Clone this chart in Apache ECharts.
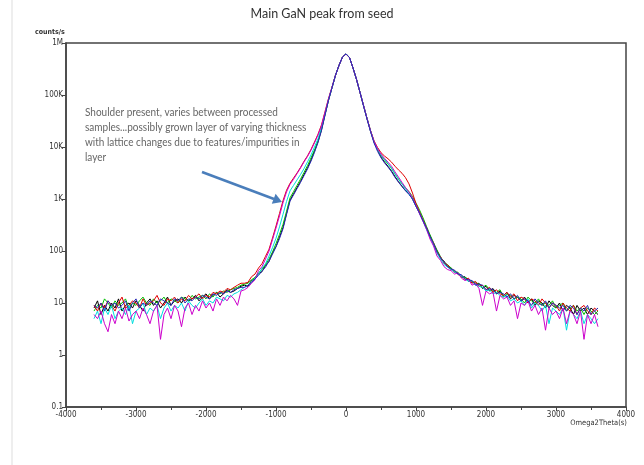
<!DOCTYPE html>
<html>
<head>
<meta charset="utf-8">
<script src="https://cdn.jsdelivr.net/npm/echarts@6/dist/echarts.min.js"></script>
<style>
html,body{margin:0;padding:0;background:#fff;}
#chart{width:644px;height:465px;}
</style>
</head>
<body>
<div id="chart"></div>
<script>
// Omega-2Theta (s) sample positions
const xValues = [-3600,-3550,-3500,-3450,-3400,-3350,-3300,-3250,-3200,-3150,-3100,-3050,-3000,-2950,-2900,-2850,-2800,-2750,-2700,-2650,-2600,-2550,-2500,-2450,-2400,-2350,-2300,-2250,-2200,-2150,-2100,-2050,-2000,-1950,-1900,-1850,-1800,-1750,-1700,-1650,-1600,-1550,-1500,
-1450,-1400,-1350,-1300,-1250,-1200,-1150,-1100,-1050,-1000,-950,-900,-850,-800,-750,-700,-650,-600,-550,-500,-450,-400,-350,-300,-250,-200,-150,-100,-50,0,50,100,150,200,250,300,350,400,450,500,550,600,650,700,750,800,850,900,950,1000,1050,1100,1150,1200,1250,1300,1350,1400,1450,
1500,1550,1600,1650,1700,1750,1800,1850,1900,1950,2000,2050,2100,2150,2200,2250,2300,2350,2400,2450,2500,2550,2600,2650,2700,2750,2800,2850,2900,2950,3000,3050,3100,3150,3200,3250,3300,3350,3400,3450,3500,3550,3600];

const blackCounts = [8,11,6,9,7,10,8,12,7,9,10,8,11,9,7,10,12,9,11,8,10,13,9,11,12,10,13,11,12,14,11,13,15,12,14,16,13,15,18,16,17,19,21,
22,21,27,29,37,40,53,63,92,122,185,282,525,955,1259,1660,2188,2951,3981,5623,8318,12589,21380,41687,79433,138038,239883,371535,537032,616595,524807,331131,199526,112202,63096,35481,20417,12589,8913,6400,5150,4250,3450,2700,2150,1760,1450,1259,1000,724,537,389,270,200,133,102,71,64,50,
48,39,38,31,32,26,27,23,24,19,21,17,19,15,17,14,16,12,14,13,11,13,10,12,9,11,10,8,11,9,8,10,7,9,8,6,9,7,8,6,8,7,6];

const redCounts = [9,7,10,8,11,9,7,10,13,8,9,11,10,8,12,9,10,11,14,10,9,12,11,13,10,12,11,14,12,13,15,12,14,13,16,15,17,16,19,18,20,22,24,
24,25,32,36,47,57,79,108,178,302,528,930,1470,2006,2518,3154,4048,5312,6768,8997,12477,17625,26725,47940,85788,142179,239883,371535,537032,610000,524807,331131,199526,112202,63096,35481,20825,13218,9804,7775,6704,5942,5127,4268,3620,3128,2574,1951,1300,811,564,395,281,188,143,95,77,59,54,
44,42,35,34,28,30,24,26,21,22,18,20,16,18,15,14,16,13,15,11,13,12,10,12,11,9,12,10,8,10,9,7,10,8,7,9,6,8,9,7,6,8,7];

const greenCounts = [7,9,8,12,10,8,11,9,10,12,8,10,9,11,13,10,9,12,10,11,13,10,12,11,10,13,12,11,14,12,13,14,12,15,13,16,15,17,16,18,19,20,22,
23,24,28,31,38,44,55,70,96,139,209,324,578,1051,1385,1826,2407,3246,4379,6185,8734,13218,22449,42521,80227,138038,239883,371535,537032,616595,524807,331131,199526,112202,63096,35481,20417,12589,8913,6896,5660,4708,3901,3028,2406,1955,1635,1385,1120,833,618,436,297,205,146,104,78,60,55,
47,40,39,32,31,29,25,25,23,20,22,18,17,16,18,13,15,14,12,13,12,10,13,11,10,12,9,10,9,11,8,9,10,7,8,9,7,8,6,8,7,6,7];

const blueCounts = [9,8,10,7,11,9,10,8,9,11,7,10,12,8,10,9,11,10,9,12,11,10,9,12,11,13,10,12,11,13,12,14,13,12,15,14,16,15,17,16,18,19,20,
20,22,25,29,34,41,49,64,87,120,173,268,499,907,1196,1577,2079,2803,3782,5342,7902,12211,20739,40853,78639,138038,239883,371535,537032,616595,524807,331131,199526,112202,61203,34417,19804,11960,8289,6220,4946,4114,3344,2596,2108,1732,1438,1221,1000,724,545,380,280,190,140,96,75,61,50,
45,43,36,35,29,28,27,22,23,22,18,19,18,15,16,15,13,15,12,14,11,12,11,9,12,10,9,11,8,10,9,8,9,7,9,8,6,8,7,9,6,7,8];

const magentaCounts = [6,5,7,4,2.8,6,4,7,5,8,4.5,6,7,5,8,6,4,7,9,2,6,8,5,9,7,3.5,8,10,6,9,7,11,8,10,7,12,9,13,11,14,12,9,17,
18,20,24,28,42,50,70,100,165,277,473,846,1365,1910,2392,3071,3938,5164,6569,8716,12061,16995,25656,45856,83405,140799,239883,371535,537032,616595,524807,331131,199526,112202,63096,35481,20417,12841,9359,7302,6045,5120,4272,3317,2635,2085,1665,1360,1050,746,520,372,262,170,125,80,66,50,44,
42,36,38,30,27,29,22,24,19,9,17,15,16,7,14,12,13,9,11,5,10,9,11,7,9,6,8,3,8,6,7,5,8,4,7,6,4,7,2,6,4,6,3.5];

const cyanCounts = [5,7,4,8,6,9,5,7,8,6,9,4,7,8,10,6,8,7,9,5,8,10,7,9,8,10,7,11,9,8,10,12,9,11,10,13,12,11,14,13,15,16,18,
20,22,25,30,36,47,57,80,116,176,291,508,893,1433,1826,2324,2954,3836,5175,7029,9982,14477,23518,43771,81816,138038,239883,371535,537032,616595,524807,331131,199526,112202,63096,35481,20417,12589,9091,6964,5770,4800,3901,3028,2406,1955,1559,1259,1000,724,526,377,258,183,131,90,70,55,49,
44,40,36,33,29,26,27,22,21,20,17,18,15,16,14,13,14,11,12,10,11,9,12,8,10,9,7,9,4,8,7,6,8,3,7,6,5,7,4,6,5,4,5];

const yTickLabels = {'0.1':'0.1','1':'1','10':'10','100':'100','1000':'1K','10000':'10K','100000':'100K','1000000':'1M'};
const titleText = 'Main GaN peak from seed';
const yAxisName = 'counts/s';
const xAxisName = 'Omega2Theta(s)';
const noteLines = [
  'Shoulder present, varies between processed',
  'samples...possibly grown layer of varying thickness',
  'with lattice changes due to features/impurities in',
  'layer'
];

const seriesDefs = [
  {name:'black', color:'#000000', data:blackCounts},
  {name:'green', color:'#00c000', data:greenCounts},
  {name:'red', color:'#e00000', data:redCounts},
  {name:'cyan', color:'#00dede', data:cyanCounts},
  {name:'magenta', color:'#cc00cc', data:magentaCounts},
  {name:'blue', color:'#2a2ab8', data:blueCounts}
];

const chart = echarts.init(document.getElementById('chart'), null, {renderer:'canvas'});
const labelFont = '"DejaVu Sans Condensed","Liberation Sans Narrow","Liberation Sans",sans-serif';

const noteGraphics = noteLines.map((t,i)=>({
  type:'text', x:85, y:106 + i*15, scaleX:0.87,
  style:{text:t, fill:'#666666', font:'11.5px Lato, "Open Sans", sans-serif'}
}));

const option = {
  animation:false,
  backgroundColor:'#ffffff',
  grid:{left:66, right:18, top:43, bottom:58, show:true, borderColor:'#444', borderWidth:1.5},
  xAxis:{
    type:'value', min:-4000, max:4000, interval:1000,
    axisLine:{show:true, onZero:false, lineStyle:{color:'#444', width:1.5}},
    axisTick:{show:true, length:4, lineStyle:{color:'#444'}},
    minorTick:{show:true, splitNumber:2, length:3, lineStyle:{color:'#444'}},
    splitLine:{show:false},
    axisLabel:{fontSize:8, color:'#333', margin:4, fontFamily:labelFont,
      formatter:function(v){ return String(v); }}
  },
  yAxis:{
    type:'log', logBase:10, min:0.1, max:1000000,
    axisLine:{show:true, onZero:false, lineStyle:{color:'#444', width:1.5}},
    axisTick:{show:true, length:4, lineStyle:{color:'#444'}},
    splitLine:{show:false},
    axisLabel:{fontSize:8, color:'#333', margin:3, fontFamily:labelFont,
      formatter:function(v){
        const k = String(Math.round(v*10)/10);
        return yTickLabels[k] !== undefined ? yTickLabels[k] : '';
      }}
  },
  series: seriesDefs.map(s=>({
    type:'line', name:s.name, showSymbol:false, symbol:'none',
    data: xValues.map((x,i)=>[x, s.data[i]]),
    lineStyle:{color:s.color, width:1},
    itemStyle:{color:s.color},
    z:2
  })),
  graphic:[
    {type:'line', shape:{x1:12, y1:0, x2:12, y2:465}, style:{stroke:'#dddddd', lineWidth:1}},
    {type:'text', left:'center', top:7, style:{text:titleText, fill:'#333', font:'12.5px Lato, "Open Sans", sans-serif'}},
    {type:'text', left:35, top:29, style:{text:yAxisName, fill:'#333', font:'bold 7px ' + labelFont}},
    {type:'text', right:17, top:419, style:{text:xAxisName, fill:'#333', font:'7.5px ' + labelFont}},
    ...noteGraphics,
    {type:'line', shape:{x1:202, y1:172, x2:274, y2:199}, style:{stroke:'#4a7ebb', lineWidth:2.5}},
    {type:'polygon', shape:{points:[[282,202],[271.8,203.8],[275.6,193.8]]}, style:{fill:'#4a7ebb'}}
  ]
};
chart.setOption(option);
</script>
</body>
</html>
